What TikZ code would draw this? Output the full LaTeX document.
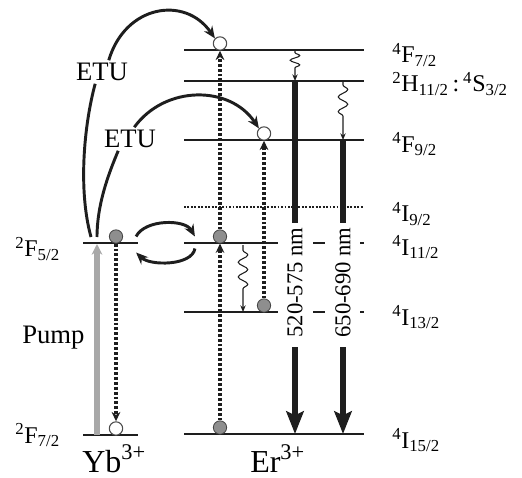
\documentclass[tikz,border=0pt]{standalone}
\usepackage{fontspec}
\setmainfont{Liberation Serif}
\usetikzlibrary{arrows.meta,calc,decorations.pathmorphing}
\definecolor{ink}{HTML}{1E1E1E}
\definecolor{pumpgray}{HTML}{A8A8A8}
\definecolor{ballgray}{HTML}{8E8E8E}
\newcommand\lvl[3]{\textsuperscript{#1}#2\textsubscript{#3}}

\begin{document}
\begin{tikzpicture}[x=0.75pt,y=-0.75pt,
	lvlline/.style={draw=ink,line width=1.5pt},
	lvldot/.style={lvlline,dash pattern=on 1.4pt off 1.2pt},
	elec/.style={circle,draw=gray!55!black,fill=ballgray,inner sep=0pt,minimum size=10pt,line width=0.6pt},
	hole/.style={circle,draw=gray!60!black,fill=white,inner sep=0pt,minimum size=10pt,line width=0.8pt},
	hop/.style={draw=ink,line width=2.6pt,dash pattern=on 2.2pt off 1.5pt,-{Stealth[length=7pt,width=6.5pt]}},
	etuline/.style={draw=ink,line width=2.2pt},
	etu/.style={etuline,-{Stealth[length=9pt,width=7.5pt]}},
	pump/.style={draw=pumpgray,line width=4pt,-{Stealth[length=8pt,width=8pt]}},
	relax/.style={draw=ink,line width=0.8pt,-{Stealth[length=5pt,width=4pt]},decorate,
		decoration={snake,amplitude=3.6pt,segment length=#1,pre length=2pt,post length=8pt}},
	emis/.style={draw=ink,line width=3.8pt},
	emistip/.style={emis,-{Stealth[length=17pt,width=13pt,inset=3pt]}},
	txt/.style={anchor=base west,inner sep=0pt,font=\fontsize{18}{21}\selectfont},
	etulabel/.style={inner sep=2pt,font=\fontsize{20}{24}\selectfont},
	band/.style={rotate=90,inner sep=3pt,font=\fontsize{17}{20}\selectfont}
	]
	\useasboundingbox (0,0) rectangle (522,478);

	% Yb levels
	\draw[lvlline] (83,243) -- (138,243);
	\draw[lvlline] (83,435) -- (138,435);
	% Er levels
	\foreach \y in {50,81,140,434}
		\draw[lvlline] (184,\y) -- (364,\y);
	\draw[lvldot] (184,207) -- (364,207);
	\foreach \y in {243,312} {
		\draw[lvlline] (184,\y) -- (278,\y);
		\draw[lvlline] (313,\y) -- (325,\y);
		\draw[lvlline] (360,\y) -- (364,\y);
	}

	% points on the levels
	\coordinate (ybLo) at (97,435);
	\coordinate (ybHi) at (97,244);
	\coordinate (srcA) at (91,237);
	\coordinate (srcB) at (97,237);
	\coordinate (gF) at (295,50);
	\coordinate (gH) at (295,81);
	\coordinate (gI) at (295,434);
	\coordinate (rH) at (343,81);
	\coordinate (rF) at (343,140);
	\coordinate (rI) at (343,434);
	\coordinate (wA) at (243,245);
	\coordinate (wB) at (243,312);

	% electrons and holes
	\node[elec] (ybA) at (116,236.5) {};
	\node[hole] (ybG) at (116,428.5) {};
	\node[elec] (erA) at (220,236.5) {};
	\node[elec] (erG) at (220,427.5) {};
	\node[hole] (erT) at (220,43.5) {};
	\node[hole] (erF) at (264,133.5) {};
	\node[elec] (erM) at (264,305.5) {};

	% pump and dotted hops
	\draw[pump] (ybLo) -- (ybHi);
	\draw[hop] (ybA) -- (ybG);
	\draw[hop] (erG) -- (erA);
	\draw[hop] (erA) -- (erT);
	\draw[hop] (erM) -- (erF);

	% energy transfer
	\draw[etu] ($(ybA.east)+(13,0)$) .. controls (145,219) and (185,219) .. ($(erA.west)+(-18,0)$);
	\draw[etu] ($(erA.west)+(-18,12)$) .. controls (192,266) and (150,266) .. ($(ybA.east)+(13,16)$);

	\node[etulabel] (etuA) at (102,72) {ETU};
	\node[etulabel] (etuB) at (130,139) {ETU};
	\draw[etuline] (srcA) .. controls (78,190) and (84,125) .. (etuA.240);
	\draw[etu] (etuA.60) .. controls (125,5) and (185,-5) .. (erT.135);
	\draw[etuline] (srcB) .. controls (97,205) and (108,175) .. (etuB.225);
	\draw[etu] (etuB.70) .. controls (165,85) and (230,85) .. (erF.135);

	% nonradiative relaxation
	\draw[relax=7pt] (gF) -- (gH);
	\draw[relax=11pt,decoration={pre length=3pt,post length=14pt}] (rH) -- (rF);
	\draw[relax=11pt,decoration={pre length=4pt,post length=16pt}] (wA) -- (wB);

	% emission
	\node[band] (green) at (295,282.5) {520-575 nm};
	\node[band] (red) at (343,282.5) {650-690 nm};
	\draw[emis] (gH) -- (green.east);
	\draw[emistip,shorten <=4pt] (green.west) -- (gI);
	\draw[emis] (rF) -- (red.east);
	\draw[emistip,shorten <=4pt] (red.west) -- (rI);

	% term symbols
	\node[txt] (tF72) at (392,63) {\lvl{4}{F}{7/2}};
	\node[txt] (tH112) at (392,92) {\lvl{2}{H}{11/2}\,:\,\lvl{4}{S}{3/2}};
	\node[txt] (tF92) at (392,152) {\lvl{4}{F}{9/2}};
	\node[txt] (tI92) at (392,222) {\lvl{4}{I}{9/2}};
	\node[txt] (tI112) at (392,255) {\lvl{4}{I}{11/2}};
	\node[txt] (tI132) at (392,325) {\lvl{4}{I}{13/2}};
	\node[txt] (tI152) at (392,448) {\lvl{4}{I}{15/2}};
	\node[txt] (tYb52) at (15,257) {\lvl{2}{F}{5/2}};
	\node[txt] (tYb72) at (15,443) {\lvl{2}{F}{7/2}};
	\node[txt,font=\fontsize{20}{24}\selectfont] (pumpl) at (22,343) {Pump};
	\node[txt,font=\fontsize{24}{28}\selectfont] (yb) at (82,472) {Yb\textsuperscript{3+}};
	\node[txt,font=\fontsize{24}{28}\selectfont] (er) at (250,472) {Er\textsuperscript{3+}};
\end{tikzpicture}
\end{document}
